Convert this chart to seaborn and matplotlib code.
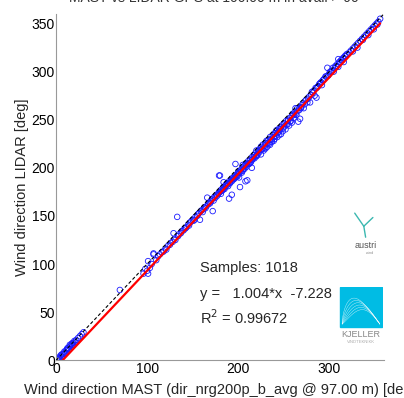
import matplotlib
matplotlib.use("Agg")
import matplotlib.pyplot as plt
import seaborn as sns
import numpy as np
from matplotlib.patches import Rectangle

# ---- data ----
mast_dir = [1, 2, 3, 4, 5, 6, 7, 8, 9, 10, 11, 12, 13, 14, 15, 16, 17, 18, 19, 20,
            21, 22, 24, 26, 28, 30, 3, 6, 9, 12, 15, 18,
            70, 96, 100, 101, 101, 105, 107, 107, 103, 98, 110, 112,
            114, 116, 118, 120, 121, 123, 125, 126, 128, 129, 130, 131, 133, 134, 135, 137,
            138, 140, 141, 143, 145, 146, 148, 150, 151, 153, 155, 156, 158, 159, 160, 162,
            163, 165, 166, 167, 168, 170, 172, 172, 174, 175, 176, 178, 179, 180, 180, 181,
            182, 183, 184, 184, 185, 186, 187, 188, 189, 190, 190, 191, 192, 193, 193, 194,
            195, 196, 197, 197, 198, 199, 200, 200, 201, 202, 202, 203, 204, 205, 205, 206,
            207, 208, 208, 209, 210, 210, 211, 212, 213, 214, 215, 215, 216, 217, 218, 219,
            220, 220, 221, 222, 223, 224, 225, 225, 226, 227, 228, 229, 230, 230, 231, 232,
            233, 234, 235, 235, 236, 237, 238, 239, 240, 240, 241, 242, 243, 244, 245, 245,
            246, 247, 248, 249, 250, 251, 252, 253, 254, 255, 256, 257, 258, 259, 260, 261,
            262, 263, 264, 265, 266, 267, 268, 269, 270, 272, 274, 276, 278, 279, 280, 282,
            284, 286, 286, 288, 290, 292, 294, 296, 298, 299, 300, 302, 304, 306, 308, 310,
            312, 314, 316, 318, 320, 322, 324, 326, 328, 330, 332, 334, 336, 338, 340, 342,
            344, 346, 348, 350, 352, 354, 356, 326, 331, 337, 343, 349, 353, 310, 316, 305,
            142, 147, 152, 157, 161, 164, 169, 171, 173, 177, 179, 181, 183, 185, 187, 189,
            191, 193, 195, 197, 199, 201, 203, 205, 207, 209, 211, 213, 215, 217, 219, 221,
            223, 225, 227, 229, 231, 233, 235, 237, 239, 241, 243, 245, 247, 249, 251, 253,
            255, 257, 259, 261, 263, 265, 267, 269, 271, 273, 275, 277, 281, 283, 285, 287,
            289, 291, 293, 295, 297, 301, 303, 307, 309, 311, 313, 315, 317, 319]
lidar_dir = [2, 1, 3, 2, 5, 4, 6, 7, 9, 8, 10, 11, 13, 12, 14, 15, 17, 16, 18, 20,
             19, 21, 23, 25, 27, 29, 1, 6, 7, 12, 16, 18,
             73, 90, 93, 90, 103, 100, 110, 111, 96, 95, 104, 108,
             110, 112, 113, 116, 115, 119, 120, 122, 123, 132, 126, 125, 149, 129, 131, 132,
             134, 135, 137, 138, 141, 140, 144, 146, 145, 149, 150, 152, 146, 155, 156, 157,
             159, 160, 169, 162, 164, 165, 155, 168, 170, 169, 172, 173, 192, 175, 192, 177,
             176, 179, 185, 178, 180, 182, 181, 184, 183, 168, 186, 185, 187, 172, 189, 188,
             190, 189, 204, 192, 191, 194, 193, 196, 190, 180, 197, 198, 195, 200, 203, 199,
             202, 186, 204, 201, 187, 205, 207, 204, 208, 206, 211, 200, 209, 213, 210, 215,
             212, 218, 214, 217, 216, 220, 214, 222, 219, 224, 218, 223, 226, 220, 228, 222,
             229, 225, 232, 224, 230, 227, 234, 228, 236, 230, 233, 239, 232, 237, 241, 234,
             240, 235, 244, 238, 246, 243, 240, 249, 245, 250, 244, 252, 249, 247, 256, 252,
             258, 262, 255, 262, 248, 260, 251, 263, 265, 262, 270, 268, 274, 268, 276, 278,
             275, 273, 283, 285, 288, 286, 292, 295, 304, 296, 298, 300, 304, 304, 306, 313,
             310, 312, 314, 316, 318, 320, 322, 324, 326, 328, 330, 332, 334, 336, 338, 340,
             342, 344, 346, 348, 350, 352, 355, 321, 325, 333, 338, 344, 349, 305, 310, 300,
             137, 143, 146, 153, 154, 158, 163, 167, 166, 171, 174, 173, 177, 178, 183, 181,
             184, 186, 188, 190, 191, 195, 196, 197, 199, 203, 204, 205, 208, 211, 212, 213,
             218, 219, 220, 221, 225, 226, 229, 229, 232, 236, 236, 238, 242, 241, 246, 245,
             249, 248, 254, 255, 256, 259, 262, 262, 267, 266, 271, 272, 279, 280, 283, 284,
             287, 289, 291, 293, 295, 300, 301, 306, 308, 310, 312, 314, 316, 318]
n_samples = 1018
fit_slope = 1.004
fit_offset = -7.228
r_squared = 0.99672
ticks = [0, 100, 200, 300]
yticks = [0, 50, 100, 150, 200, 250, 300, 350]

sns.set_style("white")
plt.rcParams['font.family'] = ['Liberation Sans', 'DejaVu Sans']

fig = plt.figure(figsize=(4.04, 3.98), dpi=100)
ax = fig.add_axes([0.139, 0.095, 0.811, 0.87])

sns.scatterplot(x=mast_dir, y=lidar_dir, ax=ax, marker='o', s=16,
                facecolors='none', edgecolor='#1a1aff', linewidth=0.6, zorder=2)

xl = np.array([0, 360])
ax.plot(xl, xl, color='black', ls=(0, (3, 2)), lw=0.8, zorder=3)
xr = np.array([-fit_offset / fit_slope, 356])
ax.plot(xr, fit_slope * xr + fit_offset, color='red', lw=1.6, zorder=4)

ax.set_xlim(0, 360)
ax.set_ylim(0, 360)
ax.set_xticks(ticks)
ax.set_yticks(yticks)
ax.tick_params(direction='in', length=3, labelsize=10, colors='#888888',
               labelcolor='black', pad=1)
for s in ['top', 'right']:
    ax.spines[s].set_visible(False)
for s in ['left', 'bottom']:
    ax.spines[s].set_color('#999999')
    ax.spines[s].set_linewidth(0.8)

ax.set_xlabel("Wind direction MAST (dir_nrg200p_b_avg @ 97.00 m) [deg]", fontsize=10.5, labelpad=5)
ax.set_ylabel("Wind direction LIDAR [deg]", fontsize=10.5, labelpad=2)

fig.text(0.53, 1.004, "MAST vs LIDAR GPS at 100.00 m in avail > 90", ha='center', va='center',
         fontsize=10, color='#333333')

ax.text(0.44, 0.255, f"Samples: {n_samples}", transform=ax.transAxes, fontsize=10.5)
ax.text(0.44, 0.18, f"y =   {fit_slope:.3f}*x  {fit_offset:.3f}", transform=ax.transAxes, fontsize=10.5)
ax.text(0.44, 0.105, f"R$^2$ = {r_squared:.5f}", transform=ax.transAxes, fontsize=10.5)

# austri logo
lax = fig.add_axes([0.86, 0.36, 0.09, 0.11])
lax.set_xlim(0, 1); lax.set_ylim(0, 1); lax.axis('off')
lax.plot([0.2, 0.45], [0.95, 0.65], color='#3bb8b0', lw=1)
lax.plot([0.7, 0.45], [0.85, 0.65], color='#3bb8b0', lw=1)
lax.plot([0.45, 0.5], [0.65, 0.4], color='#3bb8b0', lw=1)
lax.text(0.5, 0.2, "austri", ha='center', va='center', fontsize=6.5, color='#555555')
lax.text(0.6, 0.05, "wind", ha='center', va='center', fontsize=2.5, color='#888888')

# Kjeller logo
kax = fig.add_axes([0.838, 0.135, 0.11, 0.145])
kax.set_xlim(0, 1); kax.set_ylim(0, 1); kax.axis('off')
kax.add_patch(Rectangle((0.03, 0.3), 0.94, 0.69, color='#00bce4'))
t = np.linspace(0, 1, 50)
for k in range(6):
    kax.plot(0.08 + 0.85 * t, 0.35 + (0.45 - 0.04 * k) * np.sin(np.pi * t ** (0.6 + 0.1 * k)),
             color='white', lw=0.3, alpha=0.8)
kax.text(0.5, 0.17, "KJELLER", ha='center', va='center', fontsize=6.5, color='#888888')
kax.text(0.5, 0.04, "VINDTEKNIKK", ha='center', va='center', fontsize=3, color='#aaaaaa')

fig.savefig("out.png", dpi=100)
